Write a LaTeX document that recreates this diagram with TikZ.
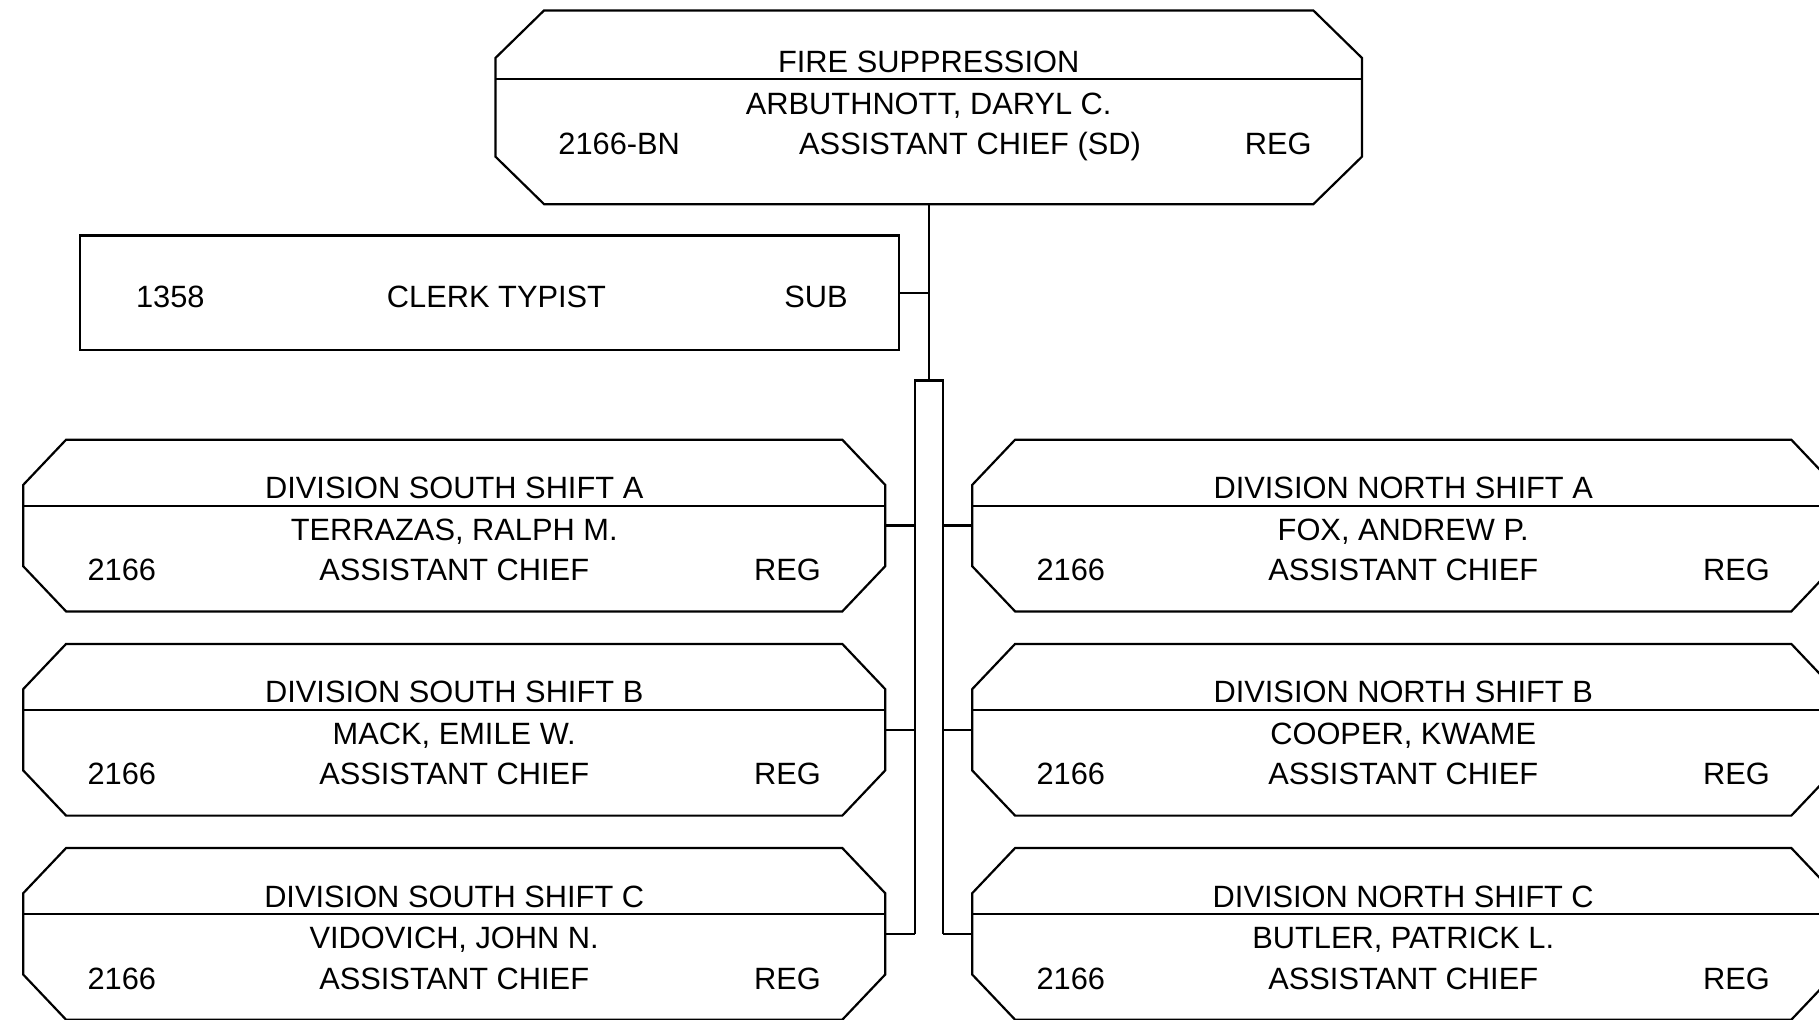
\documentclass[tikz,border=0pt]{standalone}
\usepackage{fontspec}
\setmainfont{Liberation Sans}
\begin{document}
\newcommand\octo[3]{%
  \draw[boxline] ([xshift=#2]#1.north west) -- ([xshift=-#2]#1.north east)
    -- ([yshift=-#3]#1.north east) -- ([yshift=#3]#1.south east)
    -- ([xshift=-#2]#1.south east) -- ([xshift=#2]#1.south west)
    -- ([yshift=#3]#1.south west) -- ([yshift=-#3]#1.north west) -- cycle;}
\newcommand\divline[2]{%
  \draw[boxline] ([yshift=-#2]#1.north west) -- ([yshift=-#2]#1.north east);}
\newcommand\divbox[5]{% name, center x, center y, title, person
  \node[divframe] (#1) at (#2,#3) {};
  \octo{#1}{21.45pt}{22.6pt}
  \divline{#1}{33.05pt}
  \node[txt] (#1-t) at ([yshift=-24pt]#1.north) {#4};
  \node[txt] (#1-n) at ([yshift=-44.7pt]#1.north) {#5};
  \node[txt] (#1-j) at ([yshift=-65pt]#1.north) {ASSISTANT CHIEF};
  \node[txt,anchor=west] (#1-c) at ([xshift=32pt,yshift=-65pt]#1.north west) {2166};
  \node[txt,anchor=east] (#1-s) at ([xshift=-32pt,yshift=-65pt]#1.north east) {REG};}
\begin{tikzpicture}[x=0.5pt,y=-0.5pt,
  boxline/.style={line width=1.1pt,line join=miter},
  txt/.style={font=\fontsize{15.4}{18}\selectfont,inner sep=0pt,text height=11pt,text depth=0pt},
  topframe/.style={inner sep=0pt,outer sep=0pt,minimum width=433.3pt,minimum height=96.9pt},
  divframe/.style={inner sep=0pt,outer sep=0pt,minimum width=431pt,minimum height=85.85pt},
  clerkframe/.style={draw,line width=1.1pt,inner sep=0pt,outer sep=0pt,minimum width=409.5pt,minimum height=57.4pt}]
\fill[white] (0,0) rectangle (1819,1019);
\useasboundingbox (0,0) rectangle (1819,1019);

% top box
\node[topframe] (top) at (928.7,107.3) {};
\octo{top}{24.35pt}{23.8pt}
\divline{top}{34.25pt}
\node[txt] (top-t) at ([yshift=-25.3pt]top.north) {FIRE SUPPRESSION};
\node[txt] (top-n) at ([yshift=-46.3pt]top.north) {ARBUTHNOTT, DARYL C.};
\node[txt] (top-j) at ([xshift=20.65pt,yshift=-66.5pt]top.north) {ASSISTANT CHIEF (SD)};
\node[txt,anchor=west] (top-c) at ([xshift=31.3pt,yshift=-66.5pt]top.north west) {2166-BN};
\node[txt,anchor=east] (top-s) at ([xshift=-25pt,yshift=-66.5pt]top.north east) {REG};

% clerk box
\node[clerkframe] (clerk) at (489.5,292.9) {};
\node[txt,anchor=west] (clerk-c) at ([xshift=27.85pt,yshift=-1.7pt]clerk.west) {1358};
\node[txt] (clerk-j) at ([xshift=3.5pt,yshift=-1.7pt]clerk.center) {CLERK TYPIST};
\node[txt,anchor=east] (clerk-s) at ([xshift=-25.5pt,yshift=-1.7pt]clerk.east) {SUB};

% division boxes
\divbox{la}{454.2}{525.55}{DIVISION SOUTH SHIFT A}{TERRAZAS, RALPH M.}
\divbox{lb}{454.2}{729.75}{DIVISION SOUTH SHIFT B}{MACK, EMILE W.}
\divbox{lc}{454.2}{933.85}{DIVISION SOUTH SHIFT C}{VIDOVICH, JOHN N.}
\divbox{ra}{1403.2}{525.55}{DIVISION NORTH SHIFT A}{FOX, ANDREW P.}
\divbox{rb}{1403.2}{729.75}{DIVISION NORTH SHIFT B}{COOPER, KWAME}
\divbox{rc}{1403.2}{933.85}{DIVISION NORTH SHIFT C}{BUTLER, PATRICK L.}

% connectors
\coordinate (barL) at (915.3,380.5);
\coordinate (barR) at (943.2,380.5);
\draw[boxline] (top.south) -- (top.south |- barL);
\draw[boxline] (clerk.east) -- (clerk.east -| top.south);
\draw[boxline] (barL |- lc.east) -- (barL) -- (barR) -- (barR |- rc.west);
\draw[boxline] (lc.east) -- (lc.east -| barL);
\draw[boxline] (la.east) -- (la.east -| barL);
\draw[boxline] (lb.east) -- (lb.east -| barL);
\draw[boxline] (ra.west) -- (ra.west -| barR);
\draw[boxline] (rb.west) -- (rb.west -| barR);
\draw[boxline] (rc.west) -- (rc.west -| barR);
\end{tikzpicture}
\end{document}
